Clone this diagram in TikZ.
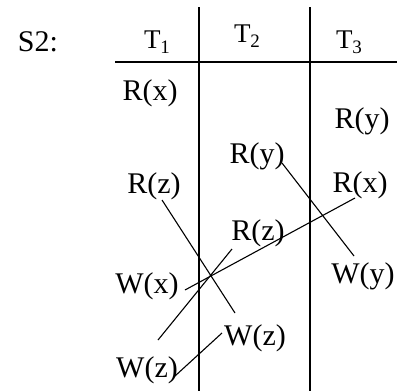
\documentclass[tikz,border=0pt]{standalone}
\usepackage{fontspec}
\setmainfont{Liberation Serif}
\usetikzlibrary{calc}
\newcommand{\subidx}[1]{\raisebox{-0.22em}{\fontsize{19}{19}\selectfont #1}}
\tikzset{
  op/.style={anchor=base, inner sep=0pt, font=\fontsize{30}{30}\selectfont},
  hdr/.style={anchor=base, inner sep=0pt, font=\fontsize{27}{27}\selectfont},
  rule/.style={line width=1.4pt},
  conn/.style={line width=1.1pt}
}
\begin{document}
\begin{tikzpicture}[x=1pt,y=-1pt]
\path[use as bounding box] (0,0) rectangle (397,391);
% grid
\coordinate (h0) at (115,62);
\coordinate (h1) at (397,62);
\coordinate (v1a) at (199,7);
\coordinate (v1b) at (199,391);
\coordinate (v2a) at (310,7);
\coordinate (v2b) at (310,391);
\draw[rule] (h0) -- (h1);
\draw[rule] (v1a) -- (v1b);
\draw[rule] (v2a) -- (v2b);
% labels
\node[op] (s2) at (38,51) {S2:};
\node[hdr] (t1) at (157,48) {T\subidx{1}};
\node[hdr] (t2) at (247,42) {T\subidx{2}};
\node[hdr] (t3) at (349,48) {T\subidx{3}};
\node[op] (rx1) at (150,100) {R(x)};
\node[op] (ry3) at (362,128) {R(y)};
\node[op] (ry2) at (257,163) {R(y)};
\node[op] (rz1) at (154,193) {R(z)};
\node[op] (rx3) at (360,192) {R(x)};
\node[op] (rz2) at (258,240) {R(z)};
\node[op] (wx1) at (147,293) {W(x)};
\node[op] (wy3) at (363,283) {W(y)};
\node[op] (wz2) at (255,345) {W(z)};
\node[op] (wz1) at (147,377) {W(z)};
% connectors
\draw[conn] ($(rz1.base)+(8,7)$) -- ($(wz2.base)+(-20,-32)$);
\draw[conn] ($(ry2.base)+(25,0)$) -- ($(wy3.base)+(-9,-27)$);
\draw[conn] ($(rx3.base)+(-5,6)$) -- ($(wx1.base)+(38,-3)$);
\draw[conn] ($(rz2.base)+(-26,9)$) -- ($(wz1.base)+(11,-37)$);
\draw[conn] ($(wz2.base)+(-33,-12)$) -- ($(wz1.base)+(28,-1)$);
\end{tikzpicture}
\end{document}
